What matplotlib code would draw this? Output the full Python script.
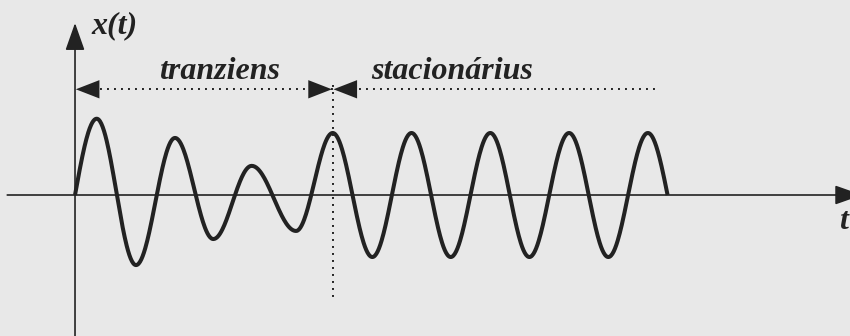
import matplotlib.pyplot as plt
import numpy as np

# extrema of the response: time (in steady periods) and amplitude (steady amplitude = 1)
ext_t = [0.275, 0.774, 1.269, 1.755, 2.242, 2.805,
         3.270, 3.773, 4.270, 4.768, 5.270, 5.766, 6.270, 6.768, 7.270]
ext_v = [1.23, -1.13, 0.92, -0.71, 0.47, -0.58,
         1.0, -1.0, 1.0, -1.0, 1.0, -1.0, 1.0, -1.0, 1.0]
t_end = 7.52          # curve ends back on the time axis
t_switch = 3.270      # boundary between the two regimes

label_trans = "tranziens"
label_stac = "stacionárius"

bg = "#e8e8e8"
ink = "#222222"
font = dict(family="Liberation Serif", weight="bold", style="italic", color=ink)

# build the curve: quarter waves at both ends, half-cosines between extrema
ts, vs = [], []
s = np.linspace(0, 1, 60)
ts.append(s * ext_t[0]); vs.append(ext_v[0] * np.sin(s * np.pi / 2))
for i in range(len(ext_t) - 1):
    a, b = ext_v[i], ext_v[i + 1]
    ts.append(ext_t[i] + s * (ext_t[i + 1] - ext_t[i]))
    vs.append(a + (b - a) * (1 - np.cos(np.pi * s)) / 2)
ts.append(ext_t[-1] + s * (t_end - ext_t[-1])); vs.append(ext_v[-1] * np.cos(s * np.pi / 2))
t = np.concatenate(ts)
v = np.concatenate(vs)

fig = plt.figure(figsize=(8.5, 3.36), dpi=100, facecolor=bg)
ax = fig.add_axes([0, 0, 1, 1])
ax.set_facecolor(bg)
ax.set_xlim(-0.952, 9.835)
ax.set_ylim(-2.274, 3.145)
ax.axis("off")

# coordinate axes with arrow heads
head = dict(arrowstyle="-|>,head_length=0.85,head_width=0.3", color=ink, lw=1.2,
            mutation_scale=20, shrinkA=0, shrinkB=0)
ax.annotate("", xy=(9.99, 0), xytext=(-0.86, 0), arrowprops=head, annotation_clip=False)
ax.annotate("", xy=(0, 2.774), xytext=(0, -2.4), arrowprops=head, annotation_clip=False)

ax.plot(t, v, color=ink, lw=2.9, solid_capstyle="butt", zorder=3)

# dotted regime boundary and dimension line
y_dim = 1.705
dots = dict(color=ink, lw=1.4, ls=(0, (1.0, 2.6)))
ax.plot([t_switch, t_switch], [1.78, -1.66], **dots)
ax.plot([0.23, 7.38], [y_dim, y_dim], **dots)
dim = dict(arrowstyle="-|>,head_length=0.85,head_width=0.33", color=ink, lw=0,
           mutation_scale=20, shrinkA=0, shrinkB=0)
ax.annotate("", xy=(0.01, y_dim), xytext=(0.5, y_dim), arrowprops=dim)
ax.annotate("", xy=(t_switch - 0.01, y_dim), xytext=(t_switch - 0.5, y_dim), arrowprops=dim)
ax.annotate("", xy=(t_switch + 0.01, y_dim), xytext=(t_switch + 0.5, y_dim), arrowprops=dim)

ax.text(1.84, 1.866, label_trans, ha="center", va="baseline", fontsize=23, **font)
ax.text(4.79, 1.866, label_stac, ha="center", va="baseline", fontsize=23, **font)
ax.text(0.21, 2.61, "x(t)", ha="left", va="baseline", fontsize=23, **font)
ax.text(9.70, -0.55, "t", ha="left", va="baseline", fontsize=23, **font)

fig.savefig("out.png", dpi=100, facecolor=bg)
